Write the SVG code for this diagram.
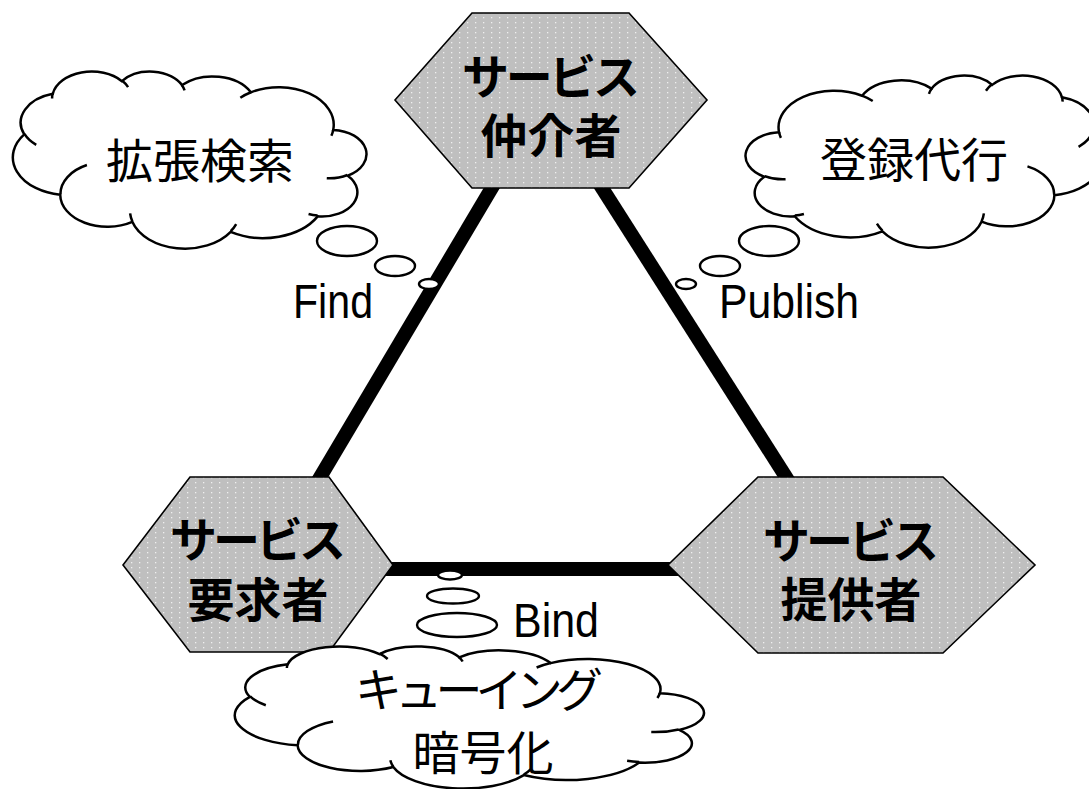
<svg xmlns="http://www.w3.org/2000/svg" xmlns:xlink="http://www.w3.org/1999/xlink" width="1089" height="789" viewBox="0 0 1089 789">
<style>
.hex{fill:url(#dots);stroke:#000;stroke-width:1.6;stroke-linejoin:miter}
.conn{stroke:#000;stroke-width:14;fill:none}
.cloud{fill:#fff;stroke:#000;stroke-width:2.5;vector-effect:non-scaling-stroke}
.hint{fill:none;stroke:#000;stroke-width:2.5;vector-effect:non-scaling-stroke}
.bub{fill:#fff;stroke:#000;stroke-width:2.4}
.hl{font-family:"Noto Sans CJK JP","Noto Sans CJK SC",sans-serif;font-weight:bold;font-size:47px;fill:#000;text-anchor:middle}
.cl{font-family:"Noto Sans CJK JP","Noto Sans CJK SC",sans-serif;font-weight:normal;font-size:47px;fill:#000;text-anchor:middle}
.lat{font-family:"Liberation Sans",Arial,sans-serif;font-size:48px;fill:#000}
</style>
<defs>
<pattern id="dots" width="8" height="5" patternUnits="userSpaceOnUse">
<rect width="8" height="5" fill="#bfbfbf"/>
<rect x="3" y="2" width="1.3" height="1.3" fill="#efefef"/>
</pattern>
<path id="cloudBody" class="cloud" d="M3900 14370 A6753 9190 0 0 1 14005 5203 A5333 7267 0 0 1 22456 3433 A4365 5945 0 0 1 29834 2481 A4857 6595 0 0 1 38319 5577 A5333 7273 0 0 1 41819 15461 A6775 9220 0 0 1 37405 30203 A5785 7867 0 0 1 28557 36814 A6752 9215 0 0 1 16482 39266 A7720 10543 0 0 1 5805 35471 A4360 5918 0 0 1 2114 25547 A4345 5945 0 0 1 3900 14370 Z"/>
<path id="cloudHints" class="hint" d="M4693 26177 A4345 5945 0 0 1 2159 25380 M6928 34899 A4360 5918 0 0 1 5819 35281 M16478 39090 A6752 9215 0 0 1 15810 37349 M28827 34751 A6752 9215 0 0 1 28560 36660 M34129 22954 A5785 7867 0 0 1 37381 30090 M41798 15354 A5333 7273 0 0 1 40350 18030 M38324 5426 A4857 6595 0 0 1 38400 6690 M29078 3952 A4857 6595 0 0 1 29820 2339 M22141 4720 A4365 5945 0 0 1 22500 3331 M14000 5192 A6753 9190 0 0 1 15300 6540 M4127 15789 A6753 9190 0 0 1 3900 14371"/>
</defs>

<g id="connectors">
<line class="conn" x1="544" y1="100" x2="268" y2="565"/>
<line class="conn" x1="546" y1="100" x2="842" y2="565"/>
<line class="conn" x1="268" y1="569" x2="842" y2="569"/>
</g>

<g id="broker">
<polygon class="hex" points="472,13 629,13 707,100 629,188 472,188 395,100"/>
<text class="hl"><tspan x="551" y="94" textLength="178" lengthAdjust="spacing">サービス</tspan><tspan x="551" y="153">仲介者</tspan></text>
</g>

<g id="requester">
<polygon class="hex" points="190,477 329,477 393,565 329,652 190,652 123,565"/>
<text class="hl"><tspan x="258" y="557" textLength="176" lengthAdjust="spacing">サービス</tspan><tspan x="258" y="617">要求者</tspan></text>
</g>

<g id="provider">
<polygon class="hex" points="758,477 943,477 1035,565 943,653 758,653 668,565"/>
<text class="hl"><tspan x="851" y="558" textLength="176" lengthAdjust="spacing">サービス</tspan><tspan x="851" y="617">提供者</tspan></text>
</g>

<g id="cloud-find">
<g transform="translate(365,71) scale(-0.0081481,0.0040972)">
<use xlink:href="#cloudBody"/>
<use xlink:href="#cloudHints"/>
</g>
<text class="cl" x="200" y="178">拡張検索</text>
<ellipse class="bub" cx="347" cy="241" rx="30" ry="15"/>
<ellipse class="bub" cx="395" cy="266" rx="20" ry="10"/>
<ellipse class="bub" cx="429" cy="284" rx="10" ry="5"/>
<text class="lat" x="293" y="318" textLength="80" lengthAdjust="spacingAndGlyphs">Find</text>
</g>

<g id="cloud-publish">
<g transform="translate(747,75) scale(0.0082176,0.0039815)">
<use xlink:href="#cloudBody"/>
<use xlink:href="#cloudHints"/>
</g>
<text class="cl" x="914" y="177">登録代行</text>
<ellipse class="bub" cx="769" cy="241" rx="30" ry="15"/>
<ellipse class="bub" cx="720" cy="266" rx="20" ry="10"/>
<ellipse class="bub" cx="686" cy="284" rx="10" ry="5"/>
<text class="lat" x="719" y="318" textLength="140" lengthAdjust="spacingAndGlyphs">Publish</text>
</g>

<g id="cloud-bind">
<g transform="translate(702,646) scale(-0.0108102,0.003287)">
<use xlink:href="#cloudBody"/>
<use xlink:href="#cloudHints"/>
</g>
<text class="cl"><tspan x="479" y="707" textLength="248" lengthAdjust="spacing">キューイング</tspan><tspan x="483" y="770">暗号化</tspan></text>
<ellipse class="bub" cx="450" cy="575" rx="12" ry="4.5"/>
<ellipse class="bub" cx="453" cy="596" rx="26" ry="7.5"/>
<ellipse class="bub" cx="457" cy="625" rx="40" ry="12"/>
<text class="lat" x="513" y="637" textLength="86" lengthAdjust="spacingAndGlyphs">Bind</text>
</g>
</svg>
